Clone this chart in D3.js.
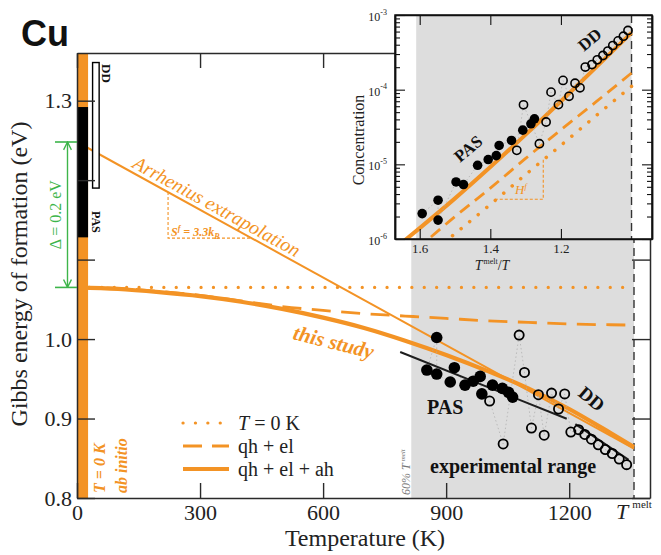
<!DOCTYPE html>
<html><head><meta charset="utf-8">
<script src="https://cdn.jsdelivr.net/npm/d3@7"></script>
<style>body{margin:0;background:#fff}</style>
</head><body><svg id="c" width="661" height="555"></svg>
<script>
// ---------------- data (main panel) ----------------
const T_MELT = 1358;
const xTicks = [0, 300, 600, 900, 1200];
const yTicks = [0.8, 0.9, 1.0, 1.1, 1.2, 1.3];
const yTickLabels = ["0.8", "0.9", "1.0", "", "", "1.3"];
const curveT = [0, 100, 200, 300, 400, 500, 600, 700, 800, 900, 1000, 1100, 1200, 1300, 1358];
const gQhEl  = [1.065, 1.064, 1.060, 1.055, 1.048, 1.041, 1.036, 1.032, 1.029, 1.026, 1.023, 1.021, 1.019, 1.018, 1.0175];
const gFull  = [1.065, 1.063, 1.059, 1.054, 1.047, 1.038, 1.027, 1.014, 0.998, 0.980, 0.960, 0.938, 0.912, 0.882, 0.864];
const zeroKT = [0, 1358];
const zeroKG = [1.065, 1.065];
const arrT = [0, 1358];
const arrG = [1.248, 0.862];
const pasFitT = [788, 1194];
const pasFitG = [0.9837, 0.8997];
const ddFitT = [1215, 1345];
const ddFitG = [0.893, 0.848];
const pasT = [853, 877, 877, 910, 920, 946, 966, 983, 987, 1013, 1037, 1052, 1062];
const pasG = [0.961, 1.002, 0.956, 0.946, 0.964, 0.942, 0.947, 0.953, 0.931, 0.942, 0.938, 0.933, 0.927];
const ddT = [1006, 1039, 1078, 1091, 1108, 1125, 1139, 1157, 1174, 1189, 1204, 1223, 1238, 1254, 1271, 1288, 1305, 1322, 1340];
const ddG = [0.922, 0.868, 1.005, 0.958, 0.888, 0.930, 0.879, 0.932, 0.912, 0.931, 0.883, 0.886, 0.880, 0.874, 0.867, 0.861, 0.856, 0.849, 0.842];
const expRangeT = [815, 1358];
const abInitioT = [0, 27];
const pasRangeG = [1.128, 1.292];
const ddBoxT = [38, 54];
const ddRangeG = [1.19, 1.348];
const deltaG = [1.065, 1.248];
const sfTriT = [222, 422];
const sfTriG = [1.127, 1.185];

// ---------------- data (inset) ----------------
const insetX = [1.0, 1.1, 1.2, 1.3, 1.4, 1.5, 1.6, 1.67];
const cFull  = [5.8e-4, 2.0e-4, 7.0e-5, 2.5e-5, 9.2e-6, 3.5e-6, 1.4e-6, 7.5e-7];
const cQhEl  = [1.67e-4, 6.9e-5, 2.9e-5, 1.2e-5, 4.8e-6, 2.0e-6, 8.0e-7, 4.5e-7];
const cZeroK = [1.11e-4, 4.5e-5, 1.8e-5, 7.3e-6, 2.9e-6, 1.18e-6, 4.8e-7, 2.6e-7];
const pasX = [1.593, 1.548, 1.548, 1.497, 1.476, 1.436, 1.406, 1.383, 1.375, 1.340, 1.308, 1.285, 1.275];
const pasC = [2.19e-6, 3.31e-6, 1.79e-6, 5.81e-6, 5.36e-6, 9.7e-6, 1.16e-5, 1.31e-5, 1.79e-5, 2.09e-5, 2.87e-5, 3.49e-5, 4.07e-5];
const ddX = [1.325, 1.306, 1.261, 1.242, 1.228, 1.207, 1.194, 1.177, 1.160, 1.146, 1.131, 1.112, 1.097, 1.081, 1.067, 1.053, 1.038, 1.023, 1.010];
const ddC = [1.54e-5, 6.27e-5, 1.89e-5, 3.69e-5, 9.26e-5, 6.31e-5, 1.33e-4, 8.15e-5, 1.22e-4, 1.06e-4, 2.01e-4, 2.17e-4, 2.51e-4, 2.87e-4, 3.29e-4, 3.90e-4, 4.50e-4, 5.20e-4, 6.21e-4];
const insetXTicks = [1.6, 1.4, 1.2];
const insetYTicks = [1e-6, 1e-5, 1e-4, 1e-3];
const insetYExp = ["-6", "-5", "-4", "-3"];
const insetExpX = [1.61, 1.0];
const hfTriX = [1.388, 1.25];
const hfTriC = [3.4e-6, 1.15e-5];

// ---------------- drawing ----------------
const W = 661, H = 555;
const M = {left: 77, right: 650, top: 53, bottom: 498};
const ORANGE = "#f39325";
const GREEN = "#3db54a";
const INK = "#1e1e1e";
const SERIF = "'Liberation Serif','Times New Roman',serif";

const svg = d3.select("#c");
svg.append("rect").attr("width", W).attr("height", H).attr("fill", "#fff");
const defs = svg.append("defs");

const x = d3.scaleLinear().domain([0, 1397]).range([M.left, M.right]);
const y = d3.scaleLinear().domain([0.8, 1.36]).range([M.bottom, M.top]);

defs.append("clipPath").attr("id", "clipMain").append("rect")
  .attr("x", M.left).attr("y", M.top).attr("width", M.right - M.left).attr("height", M.bottom - M.top);

// grey experimental range
svg.append("rect").attr("x", x(expRangeT[0])).attr("y", M.top)
  .attr("width", x(expRangeT[1]) - x(expRangeT[0])).attr("height", M.bottom - M.top)
  .attr("fill", "#dddddd");

// melting temperature dashed line
svg.append("line").attr("x1", x(T_MELT)).attr("x2", x(T_MELT)).attr("y1", M.top).attr("y2", M.bottom)
  .attr("stroke", "#333").attr("stroke-width", 1.4).attr("stroke-dasharray", "8,5");

const gm = svg.append("g").attr("clip-path", "url(#clipMain)");
const line = d3.line().x(d => x(d[0])).y(d => y(d[1]));
const zip = (a, b) => a.map((v, i) => [v, b[i]]);

// S^f triangle
gm.append("path")
  .attr("d", `M${x(sfTriT[0])},${y(sfTriG[1])}V${y(sfTriG[0])}H${x(sfTriT[1])}`)
  .attr("fill", "none").attr("stroke", ORANGE).attr("stroke-width", 1.1).attr("stroke-dasharray", "3,2");

// Arrhenius extrapolation
gm.append("path").attr("d", line(zip(arrT, arrG))).attr("fill", "none")
  .attr("stroke", ORANGE).attr("stroke-width", 2);
// T = 0 K dotted
gm.append("path").attr("d", line(zip(zeroKT, zeroKG))).attr("fill", "none")
  .attr("stroke", ORANGE).attr("stroke-width", 3.2).attr("stroke-linecap", "round").attr("stroke-dasharray", "0.1,12.3");
// qh + el dashed
gm.append("path").attr("d", d3.line().curve(d3.curveMonotoneX).x(d => x(d[0])).y(d => y(d[1]))(zip(curveT, gQhEl)))
  .attr("fill", "none").attr("stroke", ORANGE).attr("stroke-width", 2.8).attr("stroke-dasharray", "19,10.5");
// qh + el + ah solid
gm.append("path").attr("d", d3.line().curve(d3.curveMonotoneX).x(d => x(d[0])).y(d => y(d[1]))(zip(curveT, gFull)))
  .attr("fill", "none").attr("stroke", ORANGE).attr("stroke-width", 4.2);

// connectors
const conn = (T, G) => gm.append("path").attr("d", line(zip(T, G))).attr("fill", "none")
  .attr("stroke", "#ababab").attr("stroke-width", 0.7).attr("stroke-dasharray", "1.5,2.5");
conn(pasT, pasG);
conn(ddT, ddG);

// fit lines
gm.append("path").attr("d", line(zip(pasFitT, pasFitG))).attr("stroke", INK).attr("stroke-width", 2).attr("fill", "none");
gm.append("path").attr("d", line(zip(ddFitT, ddFitG))).attr("stroke", INK).attr("stroke-width", 2).attr("fill", "none");

// points
gm.selectAll("circle.pas").data(zip(pasT, pasG)).join("circle").attr("class", "pas")
  .attr("cx", d => x(d[0])).attr("cy", d => y(d[1])).attr("r", 5.8).attr("fill", "#000");
gm.selectAll("circle.dd").data(zip(ddT, ddG)).join("circle").attr("class", "dd")
  .attr("cx", d => x(d[0])).attr("cy", d => y(d[1])).attr("r", 4.6)
  .attr("fill", "none").attr("stroke", "#000").attr("stroke-width", 1.8);

// ab initio bar
svg.append("rect").attr("x", x(abInitioT[0])).attr("y", M.top)
  .attr("width", x(abInitioT[1]) - x(abInitioT[0])).attr("height", M.bottom - M.top).attr("fill", ORANGE);
svg.append("rect").attr("x", x(abInitioT[0])).attr("y", y(pasRangeG[1]))
  .attr("width", x(abInitioT[1]) - x(abInitioT[0])).attr("height", y(pasRangeG[0]) - y(pasRangeG[1])).attr("fill", "#000");
svg.append("rect").attr("x", x(ddBoxT[0])).attr("y", y(ddRangeG[1]))
  .attr("width", x(ddBoxT[1]) - x(ddBoxT[0])).attr("height", y(ddRangeG[0]) - y(ddRangeG[1]))
  .attr("fill", "#fff").attr("stroke", "#000").attr("stroke-width", 1.4);

// axes
function styleAxis(g) {
  g.select(".domain").attr("stroke", "#2a2a2a").attr("stroke-width", 1.5);
  g.selectAll(".tick line").attr("stroke", "#2a2a2a").attr("stroke-width", 1.4);
  g.selectAll(".tick text").attr("font-family", SERIF).attr("fill", "#222");
}
svg.append("g").attr("transform", `translate(0,${M.bottom})`)
  .call(d3.axisBottom(x).tickValues(xTicks).tickSize(-15).tickSizeOuter(0).tickPadding(6).tickFormat(d3.format("d")))
  .call(styleAxis).call(g => g.selectAll(".tick text").attr("font-size", 22));
svg.append("g").attr("transform", `translate(0,${M.top})`)
  .call(d3.axisTop(x).tickValues(xTicks).tickSize(-15).tickSizeOuter(0).tickFormat(""))
  .call(styleAxis);
svg.append("g").attr("transform", `translate(${M.left},0)`)
  .call(d3.axisLeft(y).tickValues(yTicks).tickSize(-18).tickSizeOuter(0).tickPadding(5).tickFormat((d, i) => yTickLabels[i]))
  .call(styleAxis).call(g => g.selectAll(".tick text").attr("font-size", 22));
svg.append("g").attr("transform", `translate(${M.right},0)`)
  .call(d3.axisRight(y).tickValues(yTicks).tickSize(-18).tickSizeOuter(0).tickFormat(""))
  .call(styleAxis);

// T^melt label
const tm = svg.append("text").attr("x", x(T_MELT)).attr("y", 519).attr("text-anchor", "middle")
  .attr("font-family", SERIF).attr("font-size", 22).attr("fill", "#222");
tm.append("tspan").attr("font-style", "italic").text("T");
tm.append("tspan").attr("font-size", 11).attr("dx", 4).attr("dy", -11).text("melt");

// axis titles
svg.append("text").attr("x", 365).attr("y", 546).attr("text-anchor", "middle")
  .attr("font-family", SERIF).attr("font-size", 24).attr("fill", "#222").text("Temperature (K)");
svg.append("text").attr("transform", "translate(27,274) rotate(-90)").attr("text-anchor", "middle")
  .attr("font-family", SERIF).attr("font-size", 24).attr("fill", "#222").text("Gibbs energy of formation (eV)");

// Cu title
svg.append("text").attr("x", 21).attr("y", 46).attr("font-family", "'Liberation Sans',Arial,sans-serif")
  .attr("font-weight", "bold").attr("font-size", 36).attr("fill", "#111").text("Cu");

// Delta arrow
defs.append("marker").attr("id", "ga").attr("viewBox", "0 0 10 10").attr("refX", 9).attr("refY", 5)
  .attr("markerWidth", 7).attr("markerHeight", 7).attr("orient", "auto-start-reverse")
  .append("path").attr("d", "M1,1L9,5L1,9").attr("fill", "none").attr("stroke", GREEN).attr("stroke-width", 1.4);
const ax = x(0) - 9.5;
svg.append("line").attr("x1", ax).attr("x2", ax).attr("y1", y(deltaG[1])).attr("y2", y(deltaG[0]))
  .attr("stroke", GREEN).attr("stroke-width", 1.4).attr("marker-start", "url(#ga)").attr("marker-end", "url(#ga)");
deltaG.forEach(g => svg.append("line").attr("x1", x(0) - 22).attr("x2", x(0)).attr("y1", y(g)).attr("y2", y(g))
  .attr("stroke", GREEN).attr("stroke-width", 1.6));
svg.append("text").attr("transform", `translate(61,${(y(deltaG[0]) + y(deltaG[1])) / 2}) rotate(-90)`)
  .attr("text-anchor", "middle").attr("font-family", SERIF).attr("font-size", 16).attr("fill", GREEN)
  .text("Δ = 0.2 eV");

// DD / PAS small labels
svg.append("text").attr("transform", "translate(102,64) rotate(90)").attr("font-family", SERIF)
  .attr("font-weight", "bold").attr("font-size", 13).attr("fill", "#111").text("DD");
svg.append("text").attr("transform", "translate(92,211) rotate(90)").attr("font-family", SERIF)
  .attr("font-weight", "bold").attr("font-size", 12).attr("fill", "#111").text("PAS");

// T = 0 K ab initio labels
svg.append("text").attr("transform", "translate(105,493) rotate(-90)").attr("font-family", SERIF)
  .attr("font-weight", "bold").attr("font-style", "italic").attr("font-size", 16).attr("fill", ORANGE).text("T = 0 K");
svg.append("text").attr("transform", "translate(127,493) rotate(-90)").attr("font-family", SERIF)
  .attr("font-weight", "bold").attr("font-style", "italic").attr("font-size", 16).attr("fill", ORANGE).text("ab initio");

// Arrhenius text
const ang = Math.atan2(y(arrG[1]) - y(arrG[0]), x(arrT[1]) - x(arrT[0])) * 180 / Math.PI;
svg.append("text").attr("transform", `translate(${x(133)},${y(arrG[0] + (arrG[1] - arrG[0]) * 133 / 1358) - 5}) rotate(${ang})`)
  .attr("font-family", SERIF).attr("font-style", "italic").attr("font-size", 19.5).attr("fill", ORANGE)
  .text("Arrhenius extrapolation");
const sf = svg.append("text").attr("x", 171).attr("y", 236).attr("font-family", SERIF)
  .attr("font-style", "italic").attr("font-weight", "bold").attr("font-size", 12).attr("fill", ORANGE);
sf.append("tspan").text("S");
sf.append("tspan").attr("font-size", 8).attr("dy", -5).text("f");
sf.append("tspan").attr("dy", 5).text(" = 3.3");
sf.append("tspan").text("k");
sf.append("tspan").attr("font-size", 8).attr("dy", 3).text("B");

// this study
svg.append("text").attr("transform", "translate(292,339) rotate(14)").attr("font-family", SERIF)
  .attr("font-style", "italic").attr("font-weight", "bold").attr("font-size", 21).attr("fill", ORANGE).text("this study");

// PAS, DD, experimental range
svg.append("text").attr("x", 427).attr("y", 414).attr("font-family", SERIF).attr("font-weight", "bold")
  .attr("font-size", 20).attr("fill", "#111").text("PAS");
svg.append("text").attr("transform", "translate(577,395) rotate(40)").attr("font-family", SERIF)
  .attr("font-weight", "bold").attr("font-size", 19).attr("fill", "#111").text("DD");
svg.append("text").attr("x", 430).attr("y", 473).attr("font-family", SERIF).attr("font-weight", "bold")
  .attr("font-size", 20).attr("fill", "#111").text("experimental range");
const sixty = svg.append("text").attr("transform", `translate(${x(expRangeT[0]) - 1},495) rotate(-90)`)
  .attr("font-family", SERIF).attr("font-style", "italic").attr("font-size", 12).attr("fill", "#777");
sixty.append("tspan").text("60% T");
sixty.append("tspan").attr("font-size", 7).attr("dy", -5).attr("dx", 2).text("melt");

// legend
const legend = [
  {label: ["T", " = 0 K"], dash: "0.1,12.3", w: 3.2},
  {label: ["", "qh + el"], dash: "19,10", w: 2.8},
  {label: ["", "qh + el + ah"], dash: null, w: 4.2}
];
legend.forEach((d, i) => {
  const ly = 423 + i * 23;
  svg.append("line").attr("x1", 183).attr("x2", 229).attr("y1", ly).attr("y2", ly)
    .attr("stroke", ORANGE).attr("stroke-width", d.w).attr("stroke-linecap", d.dash && d.dash.startsWith("0.1") ? "round" : "butt")
    .attr("stroke-dasharray", d.dash);
  const t = svg.append("text").attr("x", 238).attr("y", ly + 7).attr("font-family", SERIF)
    .attr("font-size", 20).attr("fill", "#222");
  if (d.label[0]) t.append("tspan").attr("font-style", "italic").text(d.label[0]);
  t.append("tspan").text(d.label[1]);
});

// ---------------- inset ----------------
const I = {left: 395, right: 652, top: 15, bottom: 239};
const xi = d3.scaleLinear().domain([1.67, 0.942]).range([I.left, I.right]);
const yi = d3.scaleLog().domain([1e-6, 1e-3]).range([I.bottom, I.top]);
const gi = svg.append("g");
gi.append("rect").attr("x", I.left).attr("y", I.top).attr("width", I.right - I.left).attr("height", I.bottom - I.top).attr("fill", "#fff");
gi.append("rect").attr("x", xi(insetExpX[0])).attr("y", I.top).attr("width", xi(insetExpX[1]) - xi(insetExpX[0]))
  .attr("height", I.bottom - I.top).attr("fill", "#dddddd");
defs.append("clipPath").attr("id", "clipInset").append("rect")
  .attr("x", I.left).attr("y", I.top).attr("width", I.right - I.left).attr("height", I.bottom - I.top);
const gc = gi.append("g").attr("clip-path", "url(#clipInset)");
gc.append("line").attr("x1", xi(1)).attr("x2", xi(1)).attr("y1", I.top).attr("y2", I.bottom)
  .attr("stroke", "#333").attr("stroke-width", 1.4).attr("stroke-dasharray", "8,5");
const lineI = d3.line().curve(d3.curveMonotoneX).x(d => xi(d[0])).y(d => yi(d[1]));
gc.append("path").attr("d", `M${xi(hfTriX[1])},${yi(hfTriC[1])}V${yi(hfTriC[0])}H${xi(hfTriX[0])}`)
  .attr("fill", "none").attr("stroke", ORANGE).attr("stroke-width", 1.1).attr("stroke-dasharray", "3,2");
gc.append("path").attr("d", lineI(zip(insetX, cZeroK))).attr("fill", "none").attr("stroke", ORANGE)
  .attr("stroke-width", 3.5).attr("stroke-linecap", "round").attr("stroke-dasharray", "0.1,11");
gc.append("path").attr("d", lineI(zip(insetX, cQhEl))).attr("fill", "none").attr("stroke", ORANGE)
  .attr("stroke-width", 2.8).attr("stroke-dasharray", "12,7");
gc.append("path").attr("d", lineI(zip(insetX, cFull))).attr("fill", "none").attr("stroke", ORANGE)
  .attr("stroke-width", 4);
const lineP = d3.line().x(d => xi(d[0])).y(d => yi(d[1]));
gc.append("path").attr("d", lineP(zip(pasX, pasC))).attr("fill", "none").attr("stroke", "#ababab")
  .attr("stroke-width", 0.7).attr("stroke-dasharray", "1.5,2.5");
gc.append("path").attr("d", lineP(zip(ddX, ddC))).attr("fill", "none").attr("stroke", "#ababab")
  .attr("stroke-width", 0.7).attr("stroke-dasharray", "1.5,2.5");
gc.selectAll("circle.ip").data(zip(pasX, pasC)).join("circle").attr("class", "ip")
  .attr("cx", d => xi(d[0])).attr("cy", d => yi(d[1])).attr("r", 4.8).attr("fill", "#000");
gc.selectAll("circle.id").data(zip(ddX, ddC)).join("circle").attr("class", "id")
  .attr("cx", d => xi(d[0])).attr("cy", d => yi(d[1])).attr("r", 4.1)
  .attr("fill", "none").attr("stroke", "#000").attr("stroke-width", 1.6);
const hf = gi.append("text").attr("x", xi(1.33)).attr("y", yi(hfTriC[0]) - 5).attr("font-family", SERIF)
  .attr("font-style", "italic").attr("font-size", 13).attr("fill", ORANGE);
hf.append("tspan").text("H");
hf.append("tspan").attr("font-size", 8).attr("dy", -5).text("f");

// inset labels
gi.append("text").attr("transform", "translate(460,163) rotate(-40)").attr("font-family", SERIF)
  .attr("font-weight", "bold").attr("font-size", 17).attr("fill", "#111").text("PAS");
gi.append("text").attr("transform", "translate(584,52) rotate(-40)").attr("font-family", SERIF)
  .attr("font-weight", "bold").attr("font-size", 17).attr("fill", "#111").text("DD");

// inset axes
const minorTicks = yi.ticks().filter(v => !insetYTicks.some(m => Math.abs(m - v) / m < 1e-6));
function styleI(g) {
  g.select(".domain").attr("stroke", "#111").attr("stroke-width", 1.5);
  g.selectAll(".tick line").attr("stroke", "#111").attr("stroke-width", 1.1);
  g.selectAll(".tick text").attr("font-family", SERIF).attr("fill", "#222");
}
gi.append("g").attr("transform", `translate(${I.left},0)`)
  .call(d3.axisLeft(yi).tickValues(minorTicks).tickSize(-5).tickSizeOuter(0).tickFormat("")).call(styleI);
gi.append("g").attr("transform", `translate(${I.right},0)`)
  .call(d3.axisRight(yi).tickValues(minorTicks).tickSize(-5).tickSizeOuter(0).tickFormat("")).call(styleI);
gi.append("g").attr("transform", `translate(${I.right},0)`)
  .call(d3.axisRight(yi).tickValues(insetYTicks).tickSize(-10).tickSizeOuter(0).tickFormat("")).call(styleI);
const yAxI = gi.append("g").attr("transform", `translate(${I.left},0)`)
  .call(d3.axisLeft(yi).tickValues(insetYTicks).tickSize(-10).tickSizeOuter(0).tickPadding(8).tickFormat(() => ""))
  .call(styleI);
yAxI.selectAll(".tick text").each(function (d, i) {
  const t = d3.select(this).attr("font-size", 12).attr("dy", "0.45em");
  t.append("tspan").text("10");
  t.append("tspan").attr("font-size", 8).attr("dy", "-0.8em").text(insetYExp[i]);
});
gi.append("g").attr("transform", `translate(0,${I.bottom})`)
  .call(d3.axisBottom(xi).tickValues(insetXTicks).tickSize(-10).tickSizeOuter(0).tickPadding(5).tickFormat(d3.format(".1f")))
  .call(styleI).call(g => g.selectAll(".tick text").attr("font-size", 13));
gi.append("g").attr("transform", `translate(0,${I.top})`)
  .call(d3.axisTop(xi).tickValues(insetXTicks).tickSize(-10).tickSizeOuter(0).tickFormat(""))
  .call(styleI);
gi.append("rect").attr("x", I.left).attr("y", I.top).attr("width", I.right - I.left).attr("height", I.bottom - I.top)
  .attr("fill", "none").attr("stroke", "#111").attr("stroke-width", 1.5);
gi.append("text").attr("transform", `translate(364,${(I.top + I.bottom) / 2 + 13}) rotate(-90)`).attr("text-anchor", "middle")
  .attr("font-family", SERIF).attr("font-size", 16).attr("fill", "#222").text("Concentration");
const xl = gi.append("text").attr("x", 492).attr("y", 270).attr("text-anchor", "middle")
  .attr("font-family", SERIF).attr("font-size", 14).attr("fill", "#222");
xl.append("tspan").attr("font-style", "italic").text("T");
xl.append("tspan").attr("font-size", 8).attr("dy", -6).attr("dx", 1).text("melt");
xl.append("tspan").attr("dy", 6).text("/");
xl.append("tspan").attr("font-style", "italic").text("T");
</script></body></html>
